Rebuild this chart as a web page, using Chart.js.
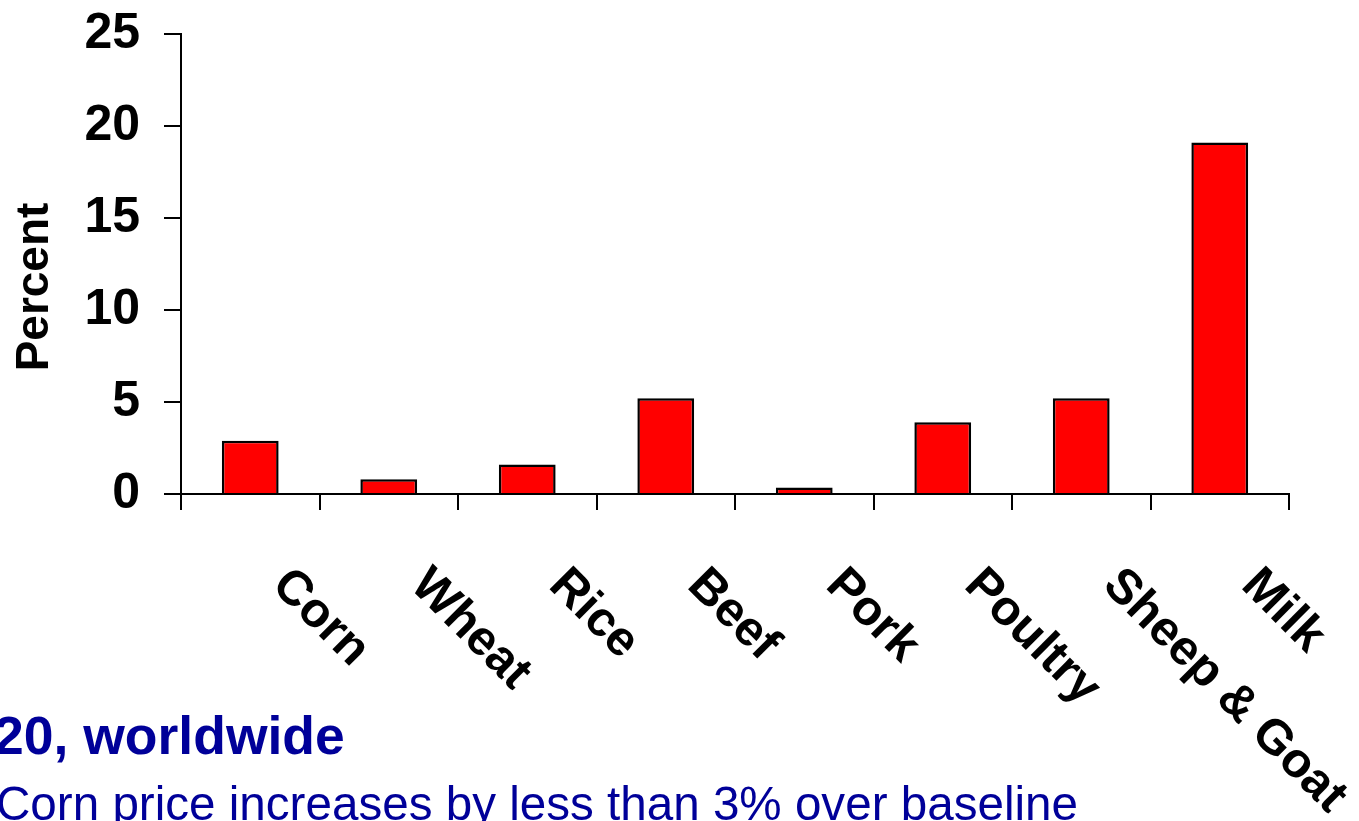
<!DOCTYPE html>
<html>
<head>
<meta charset="utf-8">
<script src="https://cdn.jsdelivr.net/npm/chart.js@4/dist/chart.umd.min.js"></script>
<style>
  html, body { margin: 0; padding: 0; background: #fff; overflow: hidden; }
  #wrap { position: relative; width: 1359px; height: 821px; }
  canvas { position: absolute; left: 0; top: 0; }
  .note { position: absolute; white-space: nowrap; color: #000099; font-family: "Liberation Sans", Arial, sans-serif; }
  #line1 { left: -6px; top: 705px; font-size: 53.5px; font-weight: bold; }
  #line2 { left: -4px; top: 776px; font-size: 47.6px; }
</style>
</head>
<body>
<div id="wrap">
  <canvas id="chart" width="1359" height="821"></canvas>
  <div class="note" id="line1">20, worldwide</div>
  <div class="note" id="line2">Corn price increases by less than 3% over baseline</div>
</div>
<script>
const categories = ['Corn', 'Wheat', 'Rice', 'Beef', 'Pork', 'Poultry', 'Sheep & Goat', 'Milk'];
const percentValues = [2.9, 0.8, 1.6, 5.2, 0.35, 3.9, 5.2, 19.1];
const yTicks = [0, 5, 10, 15, 20, 25];

const FONT = '"Liberation Sans", Arial, sans-serif';

// x labels run downward at +45deg, which chart.js can't do, so draw them here
const slantedLabels = {
    id: 'slantedLabels',
    afterDraw(chart) {
        const ctx = chart.ctx;
        const xScale = chart.scales.x;
        ctx.save();
        ctx.fillStyle = '#000';
        ctx.font = 'bold 49px ' + FONT;
        ctx.textAlign = 'left';
        ctx.textBaseline = 'alphabetic';
        categories.forEach((label, i) => {
            const cx = xScale.getPixelForValue(i);
            ctx.save();
            ctx.translate(cx + 20, 587);
            ctx.rotate(Math.PI / 4);
            ctx.fillText(label, 0, 0);
            ctx.restore();
        });

        // axis title sits a little below the middle of the axis
        ctx.save();
        ctx.translate(35, 287);
        ctx.rotate(-Math.PI / 2);
        ctx.textAlign = 'center';
        ctx.textBaseline = 'middle';
        ctx.font = 'bold 46px ' + FONT;
        ctx.fillText('Percent', 0, 0);
        ctx.restore();
        ctx.restore();
    }
};

new Chart(document.getElementById('chart').getContext('2d'), {
    type: 'bar',
    data: {
        labels: categories,
        datasets: [{
            data: percentValues,
            backgroundColor: '#ff0000',
            borderColor: '#000000',
            borderWidth: 2.5,
            barPercentage: 0.41,
            categoryPercentage: 1
        }]
    },
    options: {
        responsive: false,
        animation: false,
        devicePixelRatio: 1,
        layout: {
            padding: { top: 34, right: 70, left: 0, bottom: 0 }
        },
        plugins: {
            legend: { display: false },
            tooltip: { enabled: false }
        },
        scales: {
            x: {
                offset: true,
                grid: {
                    offset: true,
                    drawOnChartArea: false,
                    drawTicks: true,
                    tickLength: 16,
                    color: '#000',
                    lineWidth: 2
                },
                border: { display: true, color: '#000', width: 2 },
                ticks: { display: false },
                afterFit(scale) {
                    scale.height = 327;
                    scale.paddingLeft = 0;
                    scale.paddingRight = 0;
                }
            },
            y: {
                min: 0,
                max: 25,
                afterBuildTicks(scale) {
                    scale.ticks = yTicks.map(v => ({ value: v }));
                },
                grid: {
                    drawOnChartArea: false,
                    drawTicks: true,
                    tickLength: 17,
                    color: '#000',
                    lineWidth: 2
                },
                border: { display: true, color: '#000', width: 2 },
                ticks: {
                    color: '#000',
                    padding: 24,
                    font: { family: FONT, size: 50, weight: 'bold' }
                },
                afterFit(scale) {
                    scale.width = 181;
                    scale.paddingTop = 0;
                    scale.paddingBottom = 0;
                }
            }
        }
    },
    plugins: [slantedLabels]
});
</script>
</body>
</html>
